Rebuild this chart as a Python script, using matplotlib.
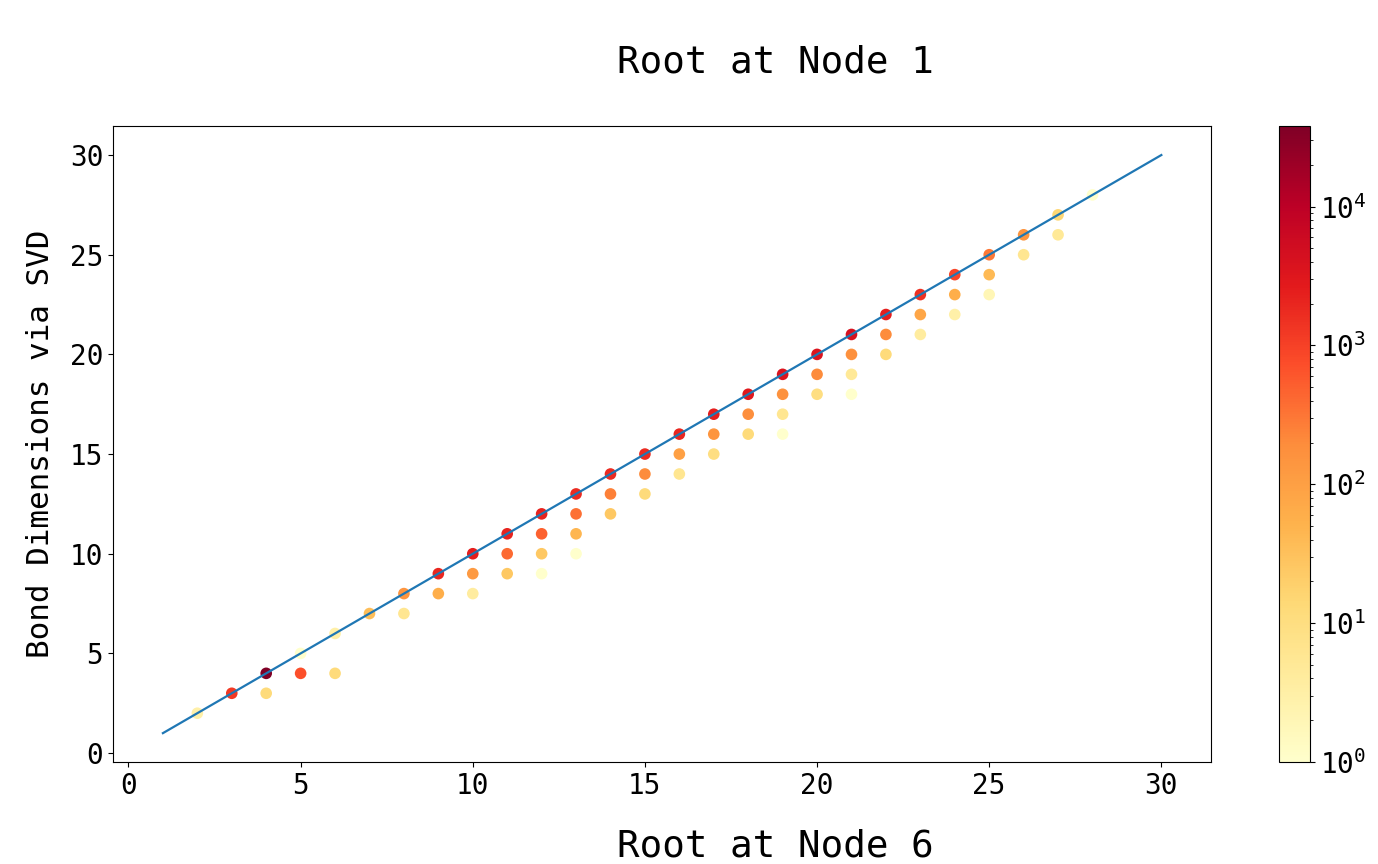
import matplotlib
matplotlib.use("Agg")
import matplotlib.pyplot as plt
import numpy as np
from matplotlib.colors import LogNorm

plt.rcParams['font.family'] = ['DejaVu Sans Mono']

# (root at node 6, bond dim via SVD, count)
x_vals = [2, 3, 4, 4, 5, 5, 6, 6, 7, 8, 8,
          9, 9, 10, 10, 10, 11, 11, 11, 12, 12, 12, 12,
          13, 13, 13, 13, 14, 14, 14, 15, 15, 15, 16, 16, 16,
          17, 17, 17, 18, 18, 18, 19, 19, 19, 19, 20, 20, 20,
          21, 21, 21, 21, 22, 22, 22, 23, 23, 23, 24, 24, 24,
          25, 25, 25, 26, 26, 27, 27, 28]
y_vals = [2, 3, 4, 3, 5, 4, 6, 4, 7, 8, 7,
          9, 8, 10, 9, 8, 11, 10, 9, 12, 11, 10, 9,
          13, 12, 11, 10, 14, 13, 12, 15, 14, 13, 16, 15, 14,
          17, 16, 15, 18, 17, 16, 19, 18, 17, 16, 20, 19, 18,
          21, 20, 19, 18, 22, 21, 20, 23, 22, 21, 24, 23, 22,
          25, 24, 23, 26, 25, 27, 26, 28]
counts = [3, 1200, 38000, 12, 1, 700, 3, 12, 35, 150, 6,
          2000, 60, 2500, 120, 4, 2200, 400, 25, 2200, 500, 25, 1,
          1800, 350, 45, 1, 1800, 250, 25, 1800, 200, 12, 2000, 100, 6,
          2500, 150, 10, 3000, 180, 12, 3500, 160, 6, 1, 3500, 200, 10,
          4000, 170, 5, 1, 2500, 200, 12, 1500, 80, 4, 900, 60, 3,
          300, 40, 2, 150, 6, 15, 5, 1]
line_x = [1, 30]
line_y = [1, 30]

fig = plt.figure(figsize=(13.78, 8.64), dpi=100)
ax = fig.add_axes([0.082, 0.118, 0.797, 0.736])
cax = fig.add_axes([0.928, 0.118, 0.023, 0.736])

sc = ax.scatter(x_vals, y_vals, c=counts, cmap='YlOrRd',
                norm=LogNorm(vmin=1, vmax=38000), s=70, linewidths=0)
ax.plot(line_x, line_y, color='#1f77b4', lw=1.6)

ax.tick_params(labelsize=20)
ax.set_xticks([0, 5, 10, 15, 20, 25, 30])
ax.set_yticks([0, 5, 10, 15, 20, 25, 30])
ax.set_ylabel('Bond Dimensions via SVD', fontsize=22.3)
ax.yaxis.set_label_coords(-0.053, 0.5)

cb = fig.colorbar(sc, cax=cax)
cb.ax.tick_params(labelsize=20)

fig.text(0.563, 0.928, 'Root at Node 1', fontsize=27, ha='center', va='center')
fig.text(0.563, 0.020, 'Root at Node 6', fontsize=27, ha='center', va='center')

fig.savefig('out.png', dpi=100)
